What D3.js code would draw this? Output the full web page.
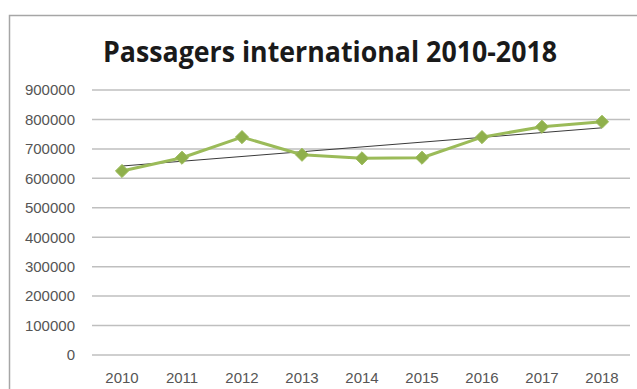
<!DOCTYPE html>
<html>
<head>
<meta charset="utf-8">
<script src="https://cdn.jsdelivr.net/npm/d3@7"></script>
<style>
    body { margin: 0; background: #fff; overflow: hidden; }
    svg { display: block; }
    .tick text { font-family: "Liberation Sans", "DejaVu Sans", sans-serif; font-size: 15px; fill: #555; }
</style>
</head>
<body>
<div id="chart"></div>
<script>
// data
const years = ["2010", "2011", "2012", "2013", "2014", "2015", "2016", "2017", "2018"];
const passengers = [625000, 670000, 740000, 680000, 668000, 670000, 740000, 775000, 792000];
const yTicks = [0, 100000, 200000, 300000, 400000, 500000, 600000, 700000, 800000, 900000];
const title = "Passagers international 2010-2018";

const W = 637, H = 389;
const margin = { top: 90, right: 5, bottom: 34, left: 92 };
const width = W - margin.left - margin.right;
const height = H - margin.top - margin.bottom;

const root = d3.select("#chart").append("svg")
    .attr("width", W)
    .attr("height", H);

// outer chart frame (only top and left edges are inside the picture)
root.append("path")
    .attr("d", `M9.5,${H}V15.5H${W}`)
    .attr("fill", "none")
    .attr("stroke", "#a6a6a6")
    .attr("stroke-width", 1.5);

root.append("text")
    .attr("x", 103).attr("y", 62)
    .attr("textLength", 454)
    .attr("lengthAdjust", "spacingAndGlyphs")
    .style("font-family", "'Open Sans', sans-serif")
    .style("font-weight", "bold")
    .style("font-size", "29px")
    .attr("fill", "#1a1a1a")
    .text(title);

const svg = root.append("g")
    .attr("transform", `translate(${margin.left},${margin.top})`);

const x = d3.scaleBand().domain(years).range([0, width]);
const y = d3.scaleLinear().domain([0, 900000]).range([height, 0]);

// gridlines
svg.append("g")
    .selectAll("line")
    .data(yTicks)
    .enter().append("line")
    .attr("x1", 0).attr("x2", width - 2)
    .attr("y1", d => y(d)).attr("y2", d => y(d))
    .attr("stroke", "#bfbfbf")
    .attr("stroke-width", 1.5);

const yAxis = d3.axisLeft(y).tickValues(yTicks).tickSize(0).tickPadding(17).tickFormat(d3.format("d"));
svg.append("g").call(yAxis).call(g => g.select(".domain").remove());

const xAxis = d3.axisBottom(x).tickSize(0).tickPadding(17);
svg.append("g")
    .attr("transform", `translate(0,${height})`)
    .call(xAxis)
    .call(g => g.select(".domain").remove());

// linear trendline (least squares over the series)
const xs = years.map((d, i) => i);
const mx = d3.mean(xs), my = d3.mean(passengers);
const slope = d3.sum(xs, (d, i) => (d - mx) * (passengers[i] - my)) / d3.sum(xs, d => (d - mx) * (d - mx));
const icpt = my - slope * mx;
const cx = d => x(d) + x.bandwidth() / 2;

svg.append("line")
    .attr("x1", cx(years[0])).attr("y1", y(icpt))
    .attr("x2", cx(years[years.length - 1])).attr("y2", y(icpt + slope * (years.length - 1)))
    .attr("stroke", "#3a3a3a")
    .attr("stroke-width", 1);

const line = d3.line()
    .x((d, i) => cx(years[i]))
    .y(d => y(d));

svg.append("path")
    .datum(passengers)
    .attr("d", line)
    .attr("fill", "none")
    .attr("stroke", "#9bbb59")
    .attr("stroke-width", 3)
    .attr("stroke-linejoin", "round");

svg.selectAll(".marker")
    .data(passengers)
    .enter().append("path")
    .attr("class", "marker")
    .attr("d", d3.symbol().type(d3.symbolDiamond2).size(110))
    .attr("transform", (d, i) => `translate(${cx(years[i])},${y(d)})`)
    .attr("fill", "#8fb04c")
    .attr("stroke", "#9bbb59")
    .attr("stroke-width", 1);
</script>
</body>
</html>
